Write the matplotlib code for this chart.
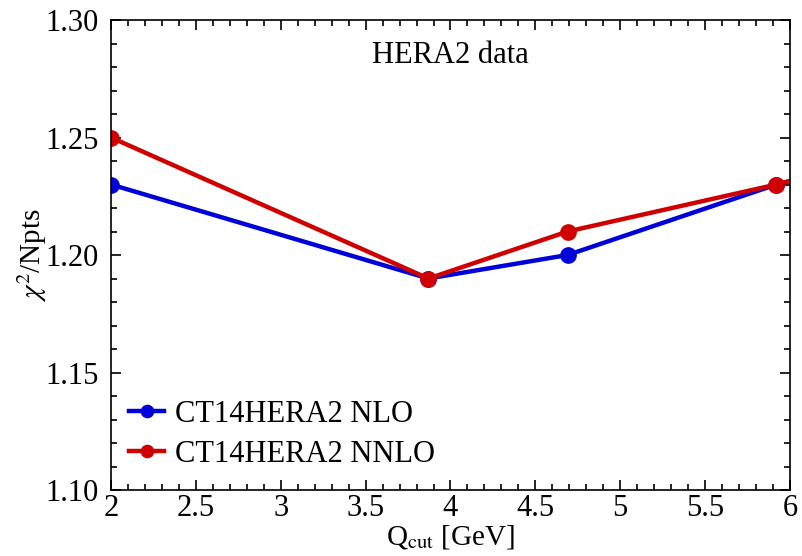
import matplotlib
matplotlib.use("Agg")
import matplotlib.pyplot as plt
from matplotlib.ticker import MultipleLocator

plt.rcParams['font.family'] = ['Liberation Serif', 'DejaVu Serif']
plt.rcParams['mathtext.fontset'] = 'stix'

# datos
q_cut = [2.0, 3.87, 4.69, 5.92, 7.0]
chi2_nlo = [1.23, 1.19, 1.20, 1.23, 1.25]
chi2_nnlo = [1.25, 1.19, 1.21, 1.23, 1.25]

fig = plt.figure(figsize=(8.03, 5.56), dpi=100)
ax = fig.add_axes([111/803, 1 - 490/556, (790-111)/803, (490-20)/556])

ax.plot(q_cut, chi2_nlo, color='#0000d8', lw=3.2, marker='o', ms=11, label="CT14HERA2 NLO")
ax.plot(q_cut, chi2_nnlo, color='#d00000', lw=3.2, marker='o', ms=11, label="CT14HERA2 NNLO")

ax.set_xlim(2, 6)
ax.set_ylim(1.10, 1.30)
ax.xaxis.set_major_locator(MultipleLocator(0.5))
ax.xaxis.set_minor_locator(MultipleLocator(0.1))
ax.yaxis.set_major_locator(MultipleLocator(0.05))
ax.yaxis.set_minor_locator(MultipleLocator(0.01))
ax.xaxis.set_major_formatter(plt.FuncFormatter(lambda v, p: f"{v:g}"))
ax.yaxis.set_major_formatter(plt.FuncFormatter(lambda v, p: f"{v:.2f}"))
ax.tick_params(which='both', direction='in', top=True, right=True, labelsize=22, width=1.2)
ax.tick_params(which='major', length=7)
ax.tick_params(which='minor', length=4)
ax.tick_params(axis='y', pad=9)
ax.tick_params(axis='x', pad=3)
for s in ax.spines.values():
    s.set_linewidth(1.2)

ax.set_xlabel(r"Q$_{\mathrm{cut}}$ [GeV]", fontsize=21)
ax.xaxis.set_label_coords(0.5, -0.07)
ax.set_ylabel(r"$\chi^2$/Npts", fontsize=21)
ax.yaxis.set_label_coords(-0.092, 0.5)
ax.text(4.0, 1.285, "HERA2 data", fontsize=22, ha='center', va='center')

ax.legend(loc='lower left', bbox_to_anchor=(0.0, 0.006), frameon=False, fontsize=22,
          handlelength=1.15, handletextpad=0.33, labelspacing=0.35, markerscale=0.8,
          borderaxespad=0.2)

fig.savefig("out.png", dpi=100)
